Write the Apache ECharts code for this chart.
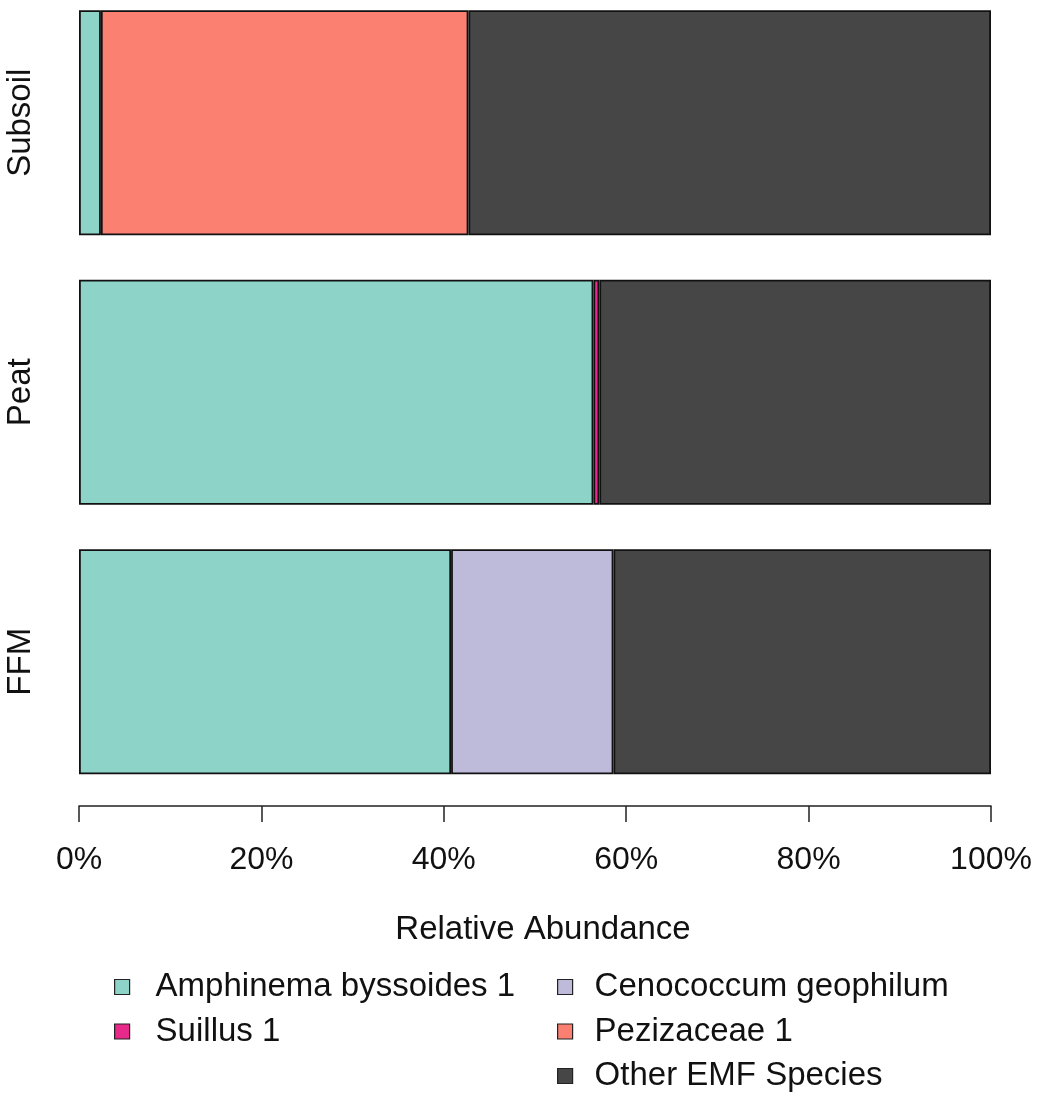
<!DOCTYPE html>
<html>
<head>
<meta charset="utf-8">
<script src="https://cdn.jsdelivr.net/npm/echarts@6/dist/echarts.min.js"></script>
<style>html,body{margin:0;padding:0;background:#fff;overflow:hidden}#chart{position:relative;top:-12px;width:1042px;height:1107px}</style>
</head>
<body>
<div id="chart"></div>
<script>
// Data (percent relative abundance), categories listed bottom-to-top
const categories = ['FFM', 'Peat', 'Subsoil'];
const amphinema = [40.8, 56.4, 2.4];
const suillus = [null, 0.65, null];
const cenococcum = [17.8, null, null];
const pezizaceae = [null, null, 40.3];
const otherEMF = [41.4, 42.95, 57.3];
const xTicks = [0, 20, 40, 60, 80, 100];
const seriesNames = ['Amphinema byssoides 1', 'Suillus 1', 'Cenococcum geophilum', 'Pezizaceae 1', 'Other EMF Species'];
const seriesColors = ['#8DD3C7', '#E7298A', '#BEBADA', '#FB8072', '#464646'];
const seriesData = [amphinema, suillus, cenococcum, pezizaceae, otherEMF];

const FONT = 'Liberation Sans, Arial, sans-serif';
const chart = echarts.init(document.getElementById('chart'));
const legendBase = {
  orient: 'vertical', top: 982.5, padding: 0,
  itemWidth: 15, itemHeight: 15, itemGap: 11.5, icon: 'rect',
  itemStyle: { borderColor: '#222', borderWidth: 1.2 },
  selectedMode: false
};
const option = {
  backgroundColor: '#ffffff',
  animation: false,
  textStyle: { fontFamily: FONT },
  grid: { left: 79, right: 51, top: 0, bottom: 298.5, containLabel: false },
  xAxis: {
    type: 'value', min: 0, max: 100, interval: 20,
    offset: 9.5,
    axisLine: { show: true, lineStyle: { color: '#222', width: 1.5 } },
    axisTick: { show: true, length: 16, lineStyle: { color: '#222', width: 1.5 } },
    axisLabel: { formatter: v => xTicks.includes(v) ? v + '%' : '', fontSize: 32, color: '#111', margin: 38, fontFamily: FONT },
    splitLine: { show: false }
  },
  yAxis: {
    type: 'category', data: categories,
    axisLine: { show: false }, axisTick: { show: false },
    axisLabel: { rotate: 90, fontSize: 33, color: '#111', margin: 42, fontFamily: FONT }
  },
  legend: [
    Object.assign({}, legendBase, {
      data: seriesNames.slice(0, 2), left: 114,
      textStyle: { fontSize: 33, lineHeight: 33, color: '#111', fontFamily: FONT, padding: [0, 0, 0, 21] }
    }),
    Object.assign({}, legendBase, {
      data: seriesNames.slice(2), left: 557,
      textStyle: { fontSize: 33, lineHeight: 33, color: '#111', fontFamily: FONT, padding: [0, 0, 0, 17] }
    })
  ],
  graphic: [{
    type: 'text', x: 543, y: 942,
    style: { text: 'Relative Abundance', font: '33px ' + FONT, fill: '#111', textAlign: 'center', textVerticalAlign: 'middle' }
  }],
  series: seriesNames.map((name, i) => ({
    name, type: 'bar', stack: 'total', barWidth: 225,
    data: seriesData[i],
    itemStyle: { color: seriesColors[i], borderColor: '#111', borderWidth: 1.8 },
    emphasis: { disabled: true }
  }))
};
chart.setOption(option);
</script>
</body>
</html>
